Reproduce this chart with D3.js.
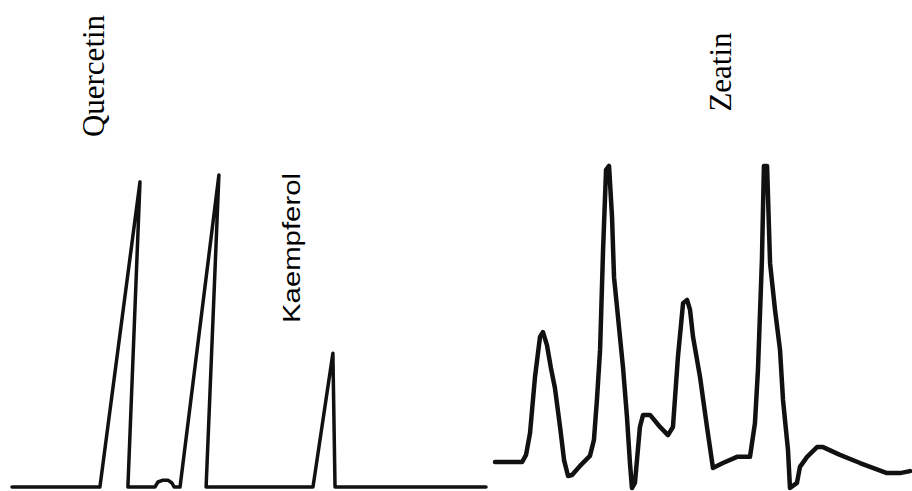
<!DOCTYPE html>
<html>
<head>
<meta charset="utf-8">
<script src="https://cdn.jsdelivr.net/npm/d3@7"></script>
<style>
  html, body { margin: 0; padding: 0; background: #fff; }
  svg { display: block; }
</style>
</head>
<body>
<svg id="chart" width="912" height="491"></svg>
<script>
// ---- Data (retention time, signal) ----
// Left chromatogram (flavonoids)
const leftTime   = [0, 3.71, 5.40, 4.89, 6.03, 6.16, 6.37, 6.58, 6.75, 6.84, 7.09, 8.73, 8.19, 12.70, 13.54, 13.63, 20];
const leftSignal = [0, 0, 97.8, 0, 0, 1.6, 2.2, 2.2, 1.3, 0, 0, 100, 0, 0, 42.9, 0, 0];

// Right chromatogram (zeatin)
const rightTime = [0.00, 1.63, 1.87, 2.11, 2.41, 2.71, 2.89, 3.13, 3.37, 3.61, 3.92, 4.16, 4.40, 4.64, 5.12,
  5.72, 5.96, 6.14, 6.33, 6.51, 6.69, 6.87, 7.05, 7.17, 7.41, 7.71, 7.95, 8.13, 8.25, 8.43, 8.73, 8.92, 9.34,
  9.94, 10.42, 10.72, 11.02, 11.33, 11.57, 11.75, 11.93, 12.35, 12.77, 13.13, 13.73, 14.58, 15.36, 15.66, 15.84,
  16.08, 16.20, 16.39, 16.57, 16.87, 17.17, 17.35, 17.65, 17.77, 18.19, 18.37, 18.80, 19.40, 19.76, 20.78,
  21.99, 23.61, 24.40, 25.00];
const rightSignal = [8.6, 8.6, 10.8, 17.5, 34.8, 47.1, 48.6, 44.6, 37.5, 31.4, 19.4, 9.2, 4.3, 4.6, 7.4,
  10.5, 15.4, 27.7, 43.1, 73.8, 98.5, 99.7, 84.0, 65.5, 53.2, 37.8, 22.5, 8.3, 0.6, 2.2, 19.4, 23.1, 23.1,
  19.4, 16.9, 19.4, 40.9, 57.5, 58.5, 55.4, 47.1, 34.8, 19.4, 6.8, 8.3, 10.2, 10.2, 20.6, 36.9,
  70.8, 99.7, 99.7, 69.8, 55.4, 43.1, 27.7, 12.3, 0.6, 2.2, 7.1, 10.2, 13.2, 13.2, 10.8,
  8.3, 5.2, 5.2, 5.8];

// Peak labels
const leftLabels  = ["Quercetin", "Kaempferol"];
const rightLabels = ["Zeatin"];

// ---- Drawing ----
const svg = d3.select("#chart");

function panel(times, signals, xDomain, xRange, yRange, width) {
  const x = d3.scaleLinear().domain(xDomain).range(xRange);
  const y = d3.scaleLinear().domain([0, 100]).range(yRange);
  const pts = times.map((t, i) => [t, signals[i]]);
  const line = d3.line().x(d => x(d[0])).y(d => y(d[1])).curve(d3.curveLinear);
  svg.append("path")
    .datum(pts)
    .attr("d", line)
    .attr("fill", "none")
    .attr("stroke", "#111")
    .attr("stroke-width", width)
    .attr("stroke-linejoin", "round")
    .attr("stroke-linecap", "round");
  return { x, y };
}

panel(leftTime, leftSignal, [0, 20], [12, 486], [487, 175], 3.5);
panel(rightTime, rightSignal, [0, 25], [495, 910], [490, 165], 4.5);

// Labels (rotated, reading bottom-to-top)
function vlabel(text, cx, cy, family, size, len) {
  const t = svg.append("text")
    .attr("transform", `translate(${cx},${cy}) rotate(-90)`)
    .attr("text-anchor", "middle")
    .attr("font-family", family)
    .attr("font-size", size)
    .attr("fill", "#000")
    .text(text);
  if (len) t.attr("textLength", len).attr("lengthAdjust", "spacingAndGlyphs");
}
vlabel(leftLabels[0], 104, 76, "Liberation Serif, Times New Roman, serif", 31);
vlabel(leftLabels[1], 300, 248, "Liberation Sans, Arial, sans-serif", 23, 150);
vlabel(rightLabels[0], 731, 72, "Liberation Serif, Times New Roman, serif", 31);
</script>
</body>
</html>
